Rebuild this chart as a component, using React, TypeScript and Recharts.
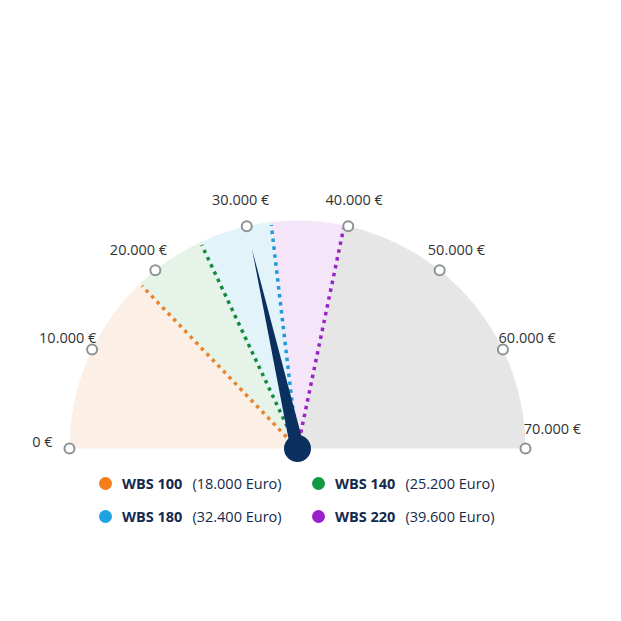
import React from "react";
import { PieChart, Pie, Cell } from "recharts";

const MAX_VALUE = 70000;
const needleValue = 30000;

const bandValues = [18000, 7200, 7200, 7200, 30400];
const bandFills = ["#fcefe5", "#e5f3e8", "#e2f3fa", "#f4e6f8", "#e6e6e6"];

const thresholdNames = ["WBS 100", "WBS 140", "WBS 180", "WBS 220"];
const thresholdTexts = ["(18.000 Euro)", "(25.200 Euro)", "(32.400 Euro)", "(39.600 Euro)"];
const thresholdLineColors = ["#e8842e", "#17893f", "#1c9bd6", "#9a24c5"];
const legendDotColors = ["#f47f1a", "#109a44", "#1ba3e2", "#9b20cd"];

const tickValues = [0, 10000, 20000, 30000, 40000, 50000, 60000, 70000];
const tickLabels = ["0 €", "10.000 €", "20.000 €", "30.000 €", "40.000 €", "50.000 €", "60.000 €", "70.000 €"];

const RAD = Math.PI / 180;
const CX = 289.5;
const CY = 440.5;
const OUTER = 228;

const bandData = bandValues.map((v, i) => ({ name: `band${i}`, value: v }));
const tickData = tickValues.map((v, i) => ({ name: tickLabels[i], value: MAX_VALUE / (tickValues.length - 1) }));
const needleData = [
  { name: "needle", value: needleValue },
  { name: "rest", value: MAX_VALUE - needleValue },
];

const tickStep = 180 / (tickValues.length - 1);

const polar = (cx: number, cy: number, r: number, angle: number) => ({
  x: cx + r * Math.cos(-angle * RAD),
  y: cy + r * Math.sin(-angle * RAD),
});

const renderBoundary = (props: any) => {
  const { cx, cy, endAngle, index } = props;
  if (index >= thresholdLineColors.length) return <g />;
  const p = polar(cx, cy, OUTER - 3, endAngle);
  return (
    <line
      x1={cx}
      y1={cy}
      x2={p.x}
      y2={p.y}
      stroke={thresholdLineColors[index]}
      strokeWidth={3.5}
      strokeDasharray="3.5 4.5"
    />
  );
};

const renderTick = (props: any) => {
  const { cx, cy, midAngle, index } = props;
  const m = polar(cx, cy, OUTER, midAngle);
  const t = polar(cx, cy, 255, midAngle);
  let dy = 0;
  if (index === 0) dy = -7;
  if (index === tickValues.length - 1) dy = -20;
  return (
    <g>
      <circle cx={m.x} cy={m.y} r={5} fill="#ffffff" stroke="#8b9393" strokeWidth={2} />
      <text
        x={t.x}
        y={t.y + dy}
        textAnchor="middle"
        dominantBaseline="central"
        fontSize={14.5}
        fill="#333333"
      >
        {tickLabels[index]}
      </text>
    </g>
  );
};

const renderNeedle = (props: any) => {
  const { cx, cy, endAngle, index } = props;
  if (index !== 0) return <g />;
  const tip = polar(cx, cy, 204, endAngle);
  const b1 = polar(cx, cy, 7, endAngle + 90);
  const b2 = polar(cx, cy, 7, endAngle - 90);
  return (
    <g>
      <polygon points={`${tip.x},${tip.y} ${b1.x},${b1.y} ${b2.x},${b2.y}`} fill="#0b2f5e" />
      <circle cx={cx} cy={cy} r={13.5} fill="#0b2f5e" />
    </g>
  );
};

const legendPos = [
  { left: 105, top: 483.5 },
  { left: 318, top: 483.5 },
  { left: 105, top: 516.5 },
  { left: 318, top: 516.5 },
];

export default function App() {
  return (
    <div style={{ position: "relative", width: 605, height: 605, fontFamily: "'Open Sans', sans-serif" }}>
      <PieChart width={605} height={605} margin={{ top: 0, right: 0, bottom: 0, left: 0 }}>
        <Pie
          data={bandData}
          dataKey="value"
          cx={CX}
          cy={CY}
          startAngle={180}
          endAngle={0}
          innerRadius={0}
          outerRadius={OUTER}
          stroke="none"
          isAnimationActive={false}
          label={renderBoundary}
          labelLine={false}
        >
          {bandData.map((d, i) => (
            <Cell key={d.name} fill={bandFills[i]} stroke="none" />
          ))}
        </Pie>
        <Pie
          data={tickData}
          dataKey="value"
          cx={CX}
          cy={CY}
          startAngle={180 + tickStep / 2}
          endAngle={-tickStep / 2}
          innerRadius={0}
          outerRadius={OUTER}
          fill="none"
          stroke="none"
          isAnimationActive={false}
          label={renderTick}
          labelLine={false}
        >
          {tickData.map((d) => (
            <Cell key={d.name} fill="none" stroke="none" />
          ))}
        </Pie>
        <Pie
          data={needleData}
          dataKey="value"
          cx={CX}
          cy={CY}
          startAngle={180}
          endAngle={0}
          innerRadius={0}
          outerRadius={OUTER}
          fill="none"
          stroke="none"
          isAnimationActive={false}
          label={renderNeedle}
          labelLine={false}
        >
          {needleData.map((d) => (
            <Cell key={d.name} fill="none" stroke="none" />
          ))}
        </Pie>
      </PieChart>
      {thresholdNames.map((name, i) => (
        <div
          key={name}
          style={{
            position: "absolute",
            left: legendPos[i].left - 8 - 6.5,
            top: legendPos[i].top - 8 - 11,
            height: 22,
            display: "flex",
            alignItems: "center",
            fontSize: 14.5,
            whiteSpace: "nowrap",
          }}
        >
          <span
            style={{
              display: "inline-block",
              width: 13,
              height: 13,
              borderRadius: "50%",
              background: legendDotColors[i],
              marginRight: 10.5,
            }}
          />
          <span style={{ fontWeight: 700, color: "#142a4c", marginRight: 10 }}>{name}</span>
          <span style={{ color: "#142a4c" }}>{thresholdTexts[i]}</span>
        </div>
      ))}
    </div>
  );
}
